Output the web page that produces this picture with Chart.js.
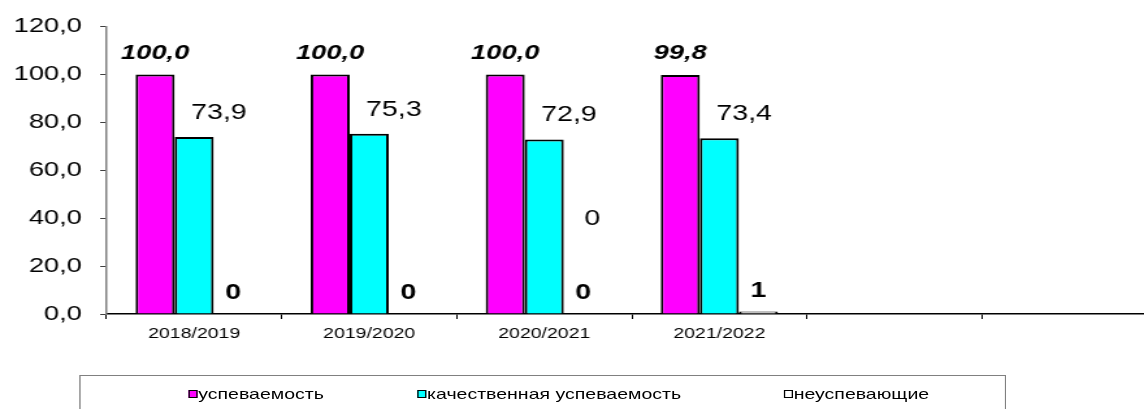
<!DOCTYPE html>
<html>
<head>
<meta charset="utf-8">
<script src="https://cdn.jsdelivr.net/npm/chart.js@4.4.1/dist/chart.umd.min.js"></script>
<style>
    html, body { margin: 0; padding: 0; background: #fff; overflow: hidden; width: 1144px; height: 409px; }
    /* the original picture is stretched horizontally, so the whole chart is drawn narrow and widened */
    #wrap { position: absolute; left: 0; top: 0; width: 892px; height: 409px; transform: scaleX(1.3); transform-origin: 0 0; }
    #legend { position: absolute; left: 61px; top: 375px; width: 713px; height: 50px; border: 1.5px solid #808080; box-sizing: border-box; font-family: 'Liberation Sans', Arial, sans-serif; font-size: 15px; color: #000; }
    .item { position: absolute; top: 9px; line-height: 18px; white-space: nowrap; display: flex; align-items: center; }
    .box { flex: none; box-sizing: border-box; display: inline-block; width: 6.5px; height: 8px; border: 1.5px solid #000; margin-right: 1px; }
</style>
</head>
<body>
<div id="wrap">
    <canvas id="mainChart" width="892" height="409"></canvas>
    <div id="legend"></div>
</div>
<script>
const categories = ['2018/2019', '2019/2020', '2020/2021', '2021/2022', '', ''];
const progress = [100.0, 100.0, 100.0, 99.8, null, null];
const quality = [73.9, 75.3, 72.9, 73.4, null, null];
const failing = [0, 0, 0, 1, null, null];
const yTicks = [0, 20, 40, 60, 80, 100, 120];
const seriesNames = ['успеваемость', 'качественная успеваемость', 'неуспевающие'];
const seriesColors = ['#FF00FF', '#00FFFF', '#FFFFFF'];
// a loose "0" label that sits in the middle of the 2020/2021 group
const strayLabel = { index: 2, value: 37, text: '0' };

const FONT = "'Liberation Sans', Arial, sans-serif";
const fmt1 = v => v.toFixed(1).replace('.', ',');

const valueLabels = {
    id: 'valueLabels',
    afterDatasetsDraw(chart) {
        const ctx = chart.ctx;
        ctx.save();
        ctx.fillStyle = '#000';
        ctx.textAlign = 'center';
        ctx.textBaseline = 'alphabetic';
        chart.data.datasets.forEach((ds, di) => {
            const meta = chart.getDatasetMeta(di);
            meta.data.forEach((bar, i) => {
                const v = ds.data[i];
                if (v == null) return;
                if (di === 0) {
                    ctx.font = 'italic bold 21px ' + FONT;
                    ctx.fillText(fmt1(v), bar.x, bar.y - 16);
                } else if (di === 1) {
                    ctx.font = '22px ' + FONT;
                    ctx.fillText(fmt1(v), bar.x + 19, bar.y - 18);
                } else {
                    ctx.font = 'bold 22px ' + FONT;
                    ctx.fillText(String(Math.round(v)), bar.x, bar.y - 15);
                }
            });
        });
        const b = chart.getDatasetMeta(2).data[strayLabel.index];
        ctx.font = '22px ' + FONT;
        ctx.fillText(strayLabel.text, b.x + 7, chart.scales.y.getPixelForValue(strayLabel.value));
        ctx.restore();
    }
};

const ctx = document.getElementById('mainChart').getContext('2d');
new Chart(ctx, {
    type: 'bar',
    data: {
        labels: categories,
        datasets: [progress, quality, failing].map((d, i) => ({
            label: seriesNames[i],
            data: d,
            backgroundColor: seriesColors[i],
            borderColor: '#000',
            borderWidth: 2,
            barPercentage: 1,
            categoryPercentage: 0.669
        }))
    },
    options: {
        responsive: false,
        animation: false,
        layout: { padding: { left: 0, right: 2, top: 24, bottom: 0 } },
        plugins: { legend: { display: false }, tooltip: { enabled: false } },
        scales: {
            x: {
                afterFit: s => { s.height = 95; },
                grid: { offset: true, drawOnChartArea: false, tickLength: 5, color: '#000', lineWidth: 1 },
                border: { color: '#000', width: 1.5 },
                ticks: { color: '#000', font: { family: FONT, size: 15 }, padding: 6, maxRotation: 0, autoSkip: false }
            },
            y: {
                min: 0,
                max: 120,
                afterFit: s => { s.width = 82; },
                afterBuildTicks: s => { s.ticks = yTicks.map(v => ({ value: v })); },
                grid: { drawOnChartArea: false, tickLength: 5, color: '#404040', lineWidth: 1 },
                border: { color: '#808080', width: 1.5 },
                ticks: { color: '#000', font: { family: FONT, size: 21 }, padding: 14, callback: v => fmt1(v) }
            }
        }
    },
    plugins: [valueLabels]
});

// legend drawn as html text under the plot
const legendLeft = [83, 259, 541];
document.getElementById('legend').innerHTML = seriesNames.map((n, i) =>
    `<span class="item" style="left:${legendLeft[i]}px"><span class="box" style="background:${seriesColors[i]}"></span>${n}</span>`
).join('');
</script>
</body>
</html>
